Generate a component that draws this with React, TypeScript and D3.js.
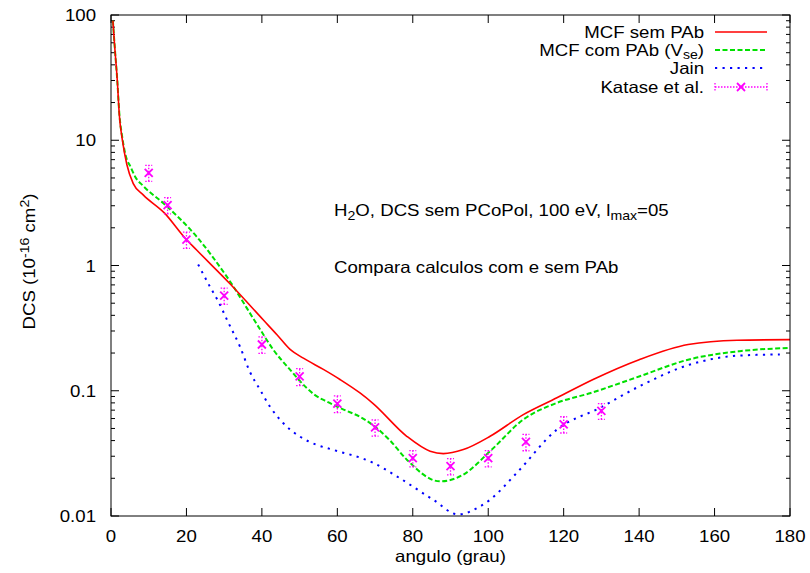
import React from "react";
import * as d3 from "d3";

const xTicks = [0, 20, 40, 60, 80, 100, 120, 140, 160, 180];
const yTicks = [0.01, 0.1, 1, 10, 100];
const yTickLabels = ["0.01", "0.1", "1", "10", "100"];

const mcfSem: [number, number][] = [
  [0.5, 90], [1, 55], [1.7, 29], [2.2, 16], [3, 10.1], [4.2, 6.4], [5.9, 4.5], [8.6, 3.65],
  [14.2, 2.62], [19.6, 1.66], [22.7, 1.33], [31.6, 0.712], [40.4, 0.367], [44, 0.28], [47.4, 0.215],
  [51, 0.182], [56.3, 0.148], [60.7, 0.123], [66, 0.096], [69.5, 0.079],
  [78.4, 0.0433], [84.6, 0.0329], [88.1, 0.0315], [93.4, 0.0339], [100.5, 0.0433],
  [109.3, 0.0645], [118.2, 0.0878], [127.8, 0.123], [140, 0.177], [153, 0.234], [166, 0.253], [180, 0.256],
];

const mcfCom: [number, number][] = [
  [0.5, 90], [1, 55], [1.7, 29], [2.2, 16.5], [3, 10.5], [4.2, 7.0], [5, 6.3], [6.4, 5.12], [8.6, 4.3],
  [13.9, 3.14], [22.7, 1.7], [30.7, 0.814], [39.5, 0.31], [43, 0.213], [47.4, 0.148], [51.9, 0.105],
  [54, 0.0927], [57.2, 0.082], [62, 0.07], [66, 0.062], [69.5, 0.053], [74, 0.04], [78.4, 0.0282], [87.2, 0.0189],
  [93.4, 0.0214], [100.5, 0.0329], [109.3, 0.0589], [118.2, 0.08], [127.2, 0.096], [140, 0.13],
  [153, 0.177], [166.7, 0.207], [180, 0.22],
];

const jain: [number, number][] = [
  [23.1, 1.02], [26.2, 0.68], [28.4, 0.52], [31.1, 0.35], [34.2, 0.225], [36.8, 0.142],
  [39.5, 0.102], [42.1, 0.075], [45.7, 0.055], [50.1, 0.043], [54.5, 0.037], [58.5, 0.034],
  [69.5, 0.0266], [76.6, 0.02], [85.4, 0.0135], [92, 0.0103], [97.8, 0.0119], [100.5, 0.0135],
  [107.5, 0.022], [118.2, 0.049], [129.6, 0.073], [140.2, 0.109], [153.5, 0.162], [166.7, 0.191], [177.3, 0.195],
];

const katAngle = [10, 15, 20, 30, 40, 50, 60, 70, 80, 90, 100, 110, 120, 130];
const katValue = [5.5, 3.03, 1.61, 0.575, 0.234, 0.13, 0.079, 0.051, 0.029, 0.025, 0.029, 0.039, 0.054, 0.069];
const katErr = [0.8, 0.45, 0.24, 0.085, 0.035, 0.02, 0.012, 0.0075, 0.0043, 0.0037, 0.0043, 0.0058, 0.008, 0.01];

const FONT = "'Liberation Sans', Arial, Helvetica, sans-serif";
const FS = 16.5;
const SX = 1.13;

function T(props: { x: number; y: number; anchor?: string; rotate?: number; children: React.ReactNode }) {
  const { x, y, anchor = "start", rotate = 0, children } = props;
  return (
    <text transform={`translate(${x},${y}) rotate(${rotate}) scale(${SX},1)`} textAnchor={anchor}>
      {children}
    </text>
  );
}

export default function App() {
  const W = 810, H = 573;
  const L = 111, R = 790, Tp = 15, B = 516;
  const x = d3.scaleLinear().domain([0, 180]).range([L, R]);
  const y = d3.scaleLog().domain([0.01, 100]).range([B, Tp]);
  const line = d3.line<[number, number]>().x((d) => x(d[0])).y((d) => y(d[1])).curve(d3.curveMonotoneX);

  const minor: number[] = [];
  for (let e = -2; e < 2; e++) for (let m = 2; m <= 9; m++) minor.push(m * Math.pow(10, e));

  const legendRows = [
    { label: <>MCF sem PAb</>, color: "#ff0000", dash: "none", w: 1.6 },
    { label: <>MCF com PAb (V<tspan dy={3} fontSize={12.5}>se</tspan><tspan dy={-3}>)</tspan></>, color: "#00e000", dash: "5,2.5", w: 2 },
    { label: <>Jain</>, color: "#0000ff", dash: "2.2,5.3", w: 2 },
  ];
  const legY = [32, 50, 68, 87];

  const cross = (cx: number, cy: number, key: string) => (
    <g key={key} stroke="#ff00ff" strokeWidth={1.8}>
      <line x1={cx - 4} y1={cy - 4} x2={cx + 4} y2={cy + 4} />
      <line x1={cx - 4} y1={cy + 4} x2={cx + 4} y2={cy - 4} />
    </g>
  );

  return (
    <svg width={W} height={H} style={{ display: "block", position: "absolute", left: 0, top: 0 }} fontFamily={FONT} fontSize={FS}>
      <rect x={0} y={0} width={W} height={H} fill="#fff" />
      <g stroke="#000" strokeWidth={1}>
        {xTicks.map((t) => (
          <g key={"xt" + t}>
            <line x1={x(t)} x2={x(t)} y1={B} y2={B - 8} />
            <line x1={x(t)} x2={x(t)} y1={Tp} y2={Tp + 8} />
          </g>
        ))}
        {yTicks.map((t) => (
          <g key={"yt" + t}>
            <line x1={L} x2={L + 8} y1={y(t)} y2={y(t)} />
            <line x1={R} x2={R - 8} y1={y(t)} y2={y(t)} />
          </g>
        ))}
        {minor.map((t) => (
          <g key={"ym" + t}>
            <line x1={L} x2={L + 4} y1={y(t)} y2={y(t)} />
            <line x1={R} x2={R - 4} y1={y(t)} y2={y(t)} />
          </g>
        ))}
      </g>
      {xTicks.map((t) => (
        <T key={"xl" + t} x={x(t)} y={B + 26} anchor="middle">{t}</T>
      ))}
      {yTicks.map((t, i) => (
        <T key={"yl" + t} x={L - 15} y={y(t) + 6} anchor="end">{yTickLabels[i]}</T>
      ))}
      <T x={(L + R) / 2} y={562} anchor="middle">angulo (grau)</T>
      <T x={35} y={(Tp + B) / 2 - 4} anchor="middle" rotate={-90}>
        DCS (10<tspan dy={-6} fontSize={12.5}>-16</tspan><tspan dy={6}> cm</tspan><tspan dy={-6} fontSize={12.5}>2</tspan><tspan dy={6}>)</tspan>
      </T>
      <T x={334} y={216}>
        H<tspan dy={4} fontSize={12.5}>2</tspan><tspan dy={-4}>O, DCS sem PCoPol, 100 eV, l</tspan><tspan dy={4} fontSize={12.5}>max</tspan><tspan dy={-4}>=05</tspan>
      </T>
      <T x={334} y={273}>Compara calculos com e sem PAb</T>
      <defs>
        <clipPath id="plotclip"><rect x={L} y={Tp} width={R - L} height={B - Tp} /></clipPath>
      </defs>
      <g clipPath="url(#plotclip)" fill="none">
        <path d={line(jain) || ""} stroke="#0000ff" strokeWidth={2} strokeDasharray="2.2,5.3" />
        <path d={line(mcfCom) || ""} stroke="#00e000" strokeWidth={2} strokeDasharray="5,2.5" />
        <path d={line(mcfSem) || ""} stroke="#ff0000" strokeWidth={1.6} />
        {katAngle.map((a, i) => {
          const cx = x(a), cy = y(katValue[i]);
          const y1 = y(katValue[i] - katErr[i]), y2 = y(katValue[i] + katErr[i]);
          return (
            <g key={"k" + i}>
              <g stroke="#ff00ff" strokeWidth={1.3} strokeDasharray="1.5,1.5">
                <line x1={cx} x2={cx} y1={y1} y2={y2} />
                <line x1={cx - 3.5} x2={cx + 3.5} y1={y1} y2={y1} />
                <line x1={cx - 3.5} x2={cx + 3.5} y1={y2} y2={y2} />
              </g>
              {cross(cx, cy, "c" + i)}
            </g>
          );
        })}
      </g>
      {legendRows.map((r, i) => (
        <g key={"lg" + i}>
          <T x={704} y={legY[i] + 6} anchor="end">{r.label}</T>
          <line x1={715} x2={767} y1={legY[i]} y2={legY[i]} stroke={r.color} strokeWidth={r.w} strokeDasharray={r.dash} />
        </g>
      ))}
      <g>
        <T x={704} y={legY[3] + 6} anchor="end">Katase et al.</T>
        <g stroke="#ff00ff" strokeWidth={1.3} strokeDasharray="1.5,1.5">
          <line x1={715} x2={767} y1={legY[3]} y2={legY[3]} />
          <line x1={715} x2={715} y1={legY[3] - 4} y2={legY[3] + 4} />
          <line x1={767} x2={767} y1={legY[3] - 4} y2={legY[3] + 4} />
        </g>
        {cross(741, legY[3], "lgc")}
      </g>
      <rect x={L} y={Tp} width={R - L} height={B - Tp} fill="none" stroke="#000" strokeWidth={1} />
    </svg>
  );
}
